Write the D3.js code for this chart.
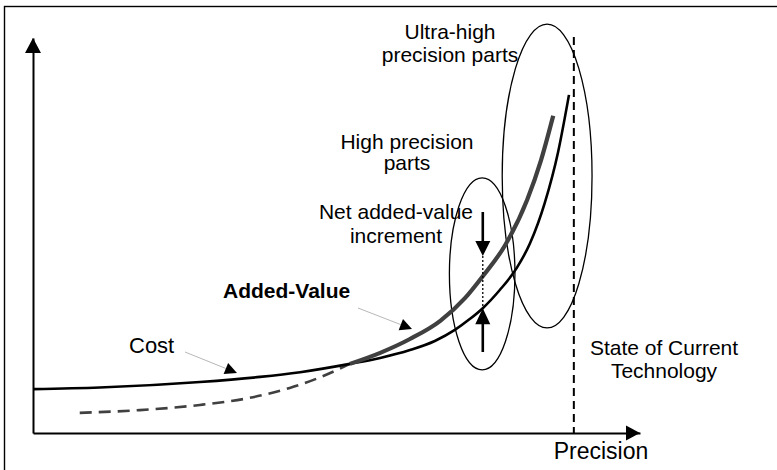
<!DOCTYPE html>
<html>
<head>
<meta charset="utf-8">
<script src="https://cdn.jsdelivr.net/npm/d3@7"></script>
<style>
  html, body { margin: 0; padding: 0; background: #fff; }
  svg { display: block; }
  text { font-family: Arial, "Liberation Sans", sans-serif; fill: #000; }
</style>
</head>
<body>
<svg id="chart" width="777" height="470"></svg>
<script>
// Precision (0-100) against relative level (0-100).
const costPrecision  = [0, 11.0, 27.5, 37.4, 44.0, 52.2, 57.2, 62.1, 66.2, 69.5, 72.0, 74.1, 76.9, 79.7, 81.9, 84.3, 86.5, 88.3];
const costValues     = [11.1, 11.5, 12.9, 14.2, 15.4, 17.5, 19.0, 21.0, 23.3, 26.1, 28.9, 31.6, 36.2, 41.8, 48.1, 58.2, 71.1, 85.6];

const valuePrecision = [52.2, 57.2, 62.1, 67.1, 71.2, 74.0, 77.8, 81.4, 83.7, 85.7];
const valueValues    = [17.5, 20.3, 23.8, 28.4, 34.2, 39.5, 47.6, 59.0, 69.1, 80.3];

// Added value below the crossover with cost (dashed)
const lowPrecision   = [7.7, 17.6, 27.5, 35.7, 42.3, 47.3, 52.2];
const lowValues      = [5.1, 5.8, 7.1, 8.9, 11.4, 14.1, 17.5];

const techLimit = 89.1;

// Precision bands: [precision from, precision to, level from, level to]
const bandNames  = ["High precision parts", "Ultra-high precision parts"];
const bandRanges = [[68.6, 79.4, 16.0, 64.6], [77.3, 92.1, 26.6, 103.5]];

const svg = d3.select("#chart");

const x = d3.scaleLinear().domain([0, 100]).range([33, 640]);
const y = d3.scaleLinear().domain([0, 100]).range([433, 38]);

// outer frame
svg.append("rect")
  .attr("x", 4.5).attr("y", 6.5).attr("width", 900).attr("height", 600)
  .attr("fill", "none").attr("stroke", "#000").attr("stroke-width", 1.4);

// axes (no ticks), finished with arrowheads
const xAxis = svg.append("g").attr("transform", `translate(0,${y(0)})`)
  .call(d3.axisBottom(x).tickValues([]).tickSizeOuter(0));
const yAxis = svg.append("g").attr("transform", `translate(${x(0)},0)`)
  .call(d3.axisLeft(y).tickValues([]).tickSizeOuter(0));
[xAxis, yAxis].forEach(g => g.select(".domain")
  .attr("stroke", "#000").attr("stroke-width", 2));

svg.append("path")
  .attr("d", `M${x(100)},${y(0)} L${x(100) - 14},${y(0) - 7.5} L${x(100) - 14},${y(0) + 7.5} Z`)
  .attr("fill", "#000");
svg.append("path")
  .attr("d", `M${x(0)},${y(100)} L${x(0) - 8},${y(100) + 15} L${x(0) + 8},${y(100) + 15} Z`)
  .attr("fill", "#000");

// technology limit
svg.append("line")
  .attr("x1", x(techLimit)).attr("x2", x(techLimit))
  .attr("y1", 37).attr("y2", y(0))
  .attr("stroke", "#000").attr("stroke-width", 2)
  .attr("stroke-dasharray", "8,5");

// precision bands
bandRanges.forEach(r => {
  svg.append("ellipse")
    .attr("cx", (x(r[0]) + x(r[1])) / 2)
    .attr("cy", (y(r[2]) + y(r[3])) / 2)
    .attr("rx", (x(r[1]) - x(r[0])) / 2)
    .attr("ry", (y(r[2]) - y(r[3])) / 2)
    .attr("fill", "none").attr("stroke", "#000").attr("stroke-width", 1.3);
});

const line = d3.line().x(d => x(d[0])).y(d => y(d[1])).curve(d3.curveMonotoneX);

svg.append("path")
  .attr("d", line(d3.zip(lowPrecision, lowValues)))
  .attr("fill", "none").attr("stroke", "#404040").attr("stroke-width", 2.6)
  .attr("stroke-dasharray", "12,7");

svg.append("path")
  .attr("d", line(d3.zip(costPrecision, costValues)))
  .attr("fill", "none").attr("stroke", "#000").attr("stroke-width", 2.6);

svg.append("path")
  .attr("d", line(d3.zip(valuePrecision, valueValues)))
  .attr("fill", "none").attr("stroke", "#404040").attr("stroke-width", 4.2);

// net added-value increment markers
const px = x(74.1);
const costAt = y(costValues[costPrecision.indexOf(74.1)]);
svg.append("line")
  .attr("x1", px).attr("x2", px).attr("y1", 256).attr("y2", costAt)
  .attr("stroke", "#000").attr("stroke-width", 1.3).attr("stroke-dasharray", "2,2");
svg.append("line").attr("x1", px).attr("x2", px).attr("y1", 212).attr("y2", 243)
  .attr("stroke", "#000").attr("stroke-width", 2.6);
svg.append("path").attr("d", `M${px},256 L${px - 7.5},241 L${px + 7.5},241 Z`).attr("fill", "#000");
svg.append("line").attr("x1", px).attr("x2", px).attr("y1", 352).attr("y2", costAt + 14)
  .attr("stroke", "#000").attr("stroke-width", 2.6);
svg.append("path").attr("d", `M${px},${costAt} L${px - 7.5},${costAt + 16} L${px + 7.5},${costAt + 16} Z`).attr("fill", "#000");

// callout leaders
function leader(x0, y0, x1, y1) {
  const dx = x1 - x0, dy = y1 - y0, len = Math.hypot(dx, dy);
  const ux = dx / len, uy = dy / len;
  const bx = x1 - ux * 12, by = y1 - uy * 12;
  svg.append("line").attr("x1", x0).attr("y1", y0).attr("x2", bx).attr("y2", by)
    .attr("stroke", "#b8b8b8").attr("stroke-width", 1);
  svg.append("path")
    .attr("d", `M${x1},${y1} L${bx - uy * 6},${by + ux * 6} L${bx + uy * 6},${by - ux * 6} Z`)
    .attr("fill", "#000");
}
leader(185, 352, 237, 373);
leader(358, 308, 412, 329);

// labels
function label(lines, cx, y0, size, dy, anchor, weight) {
  const t = svg.append("text")
    .attr("text-anchor", anchor || "middle")
    .attr("font-size", size)
    .attr("font-weight", weight || "normal");
  lines.forEach((s, i) => t.append("tspan").attr("x", cx).attr("y", y0 + i * dy).text(s));
}
label(["Ultra-high", "precision parts"], 450, 39, 21, 23);
label(["High precision", "parts"], 407, 149, 21, 21);
label(["Net added-value", "increment"], 396, 219, 21, 24);
label(["Added-Value"], 223, 298, 21, 0, "start", "bold");
label(["Cost"], 129, 353, 22, 0, "start");
label(["State of Current", "Technology"], 664, 355, 21, 23);
label(["Precision"], 601, 459, 23, 0);
</script>
</body>
</html>
